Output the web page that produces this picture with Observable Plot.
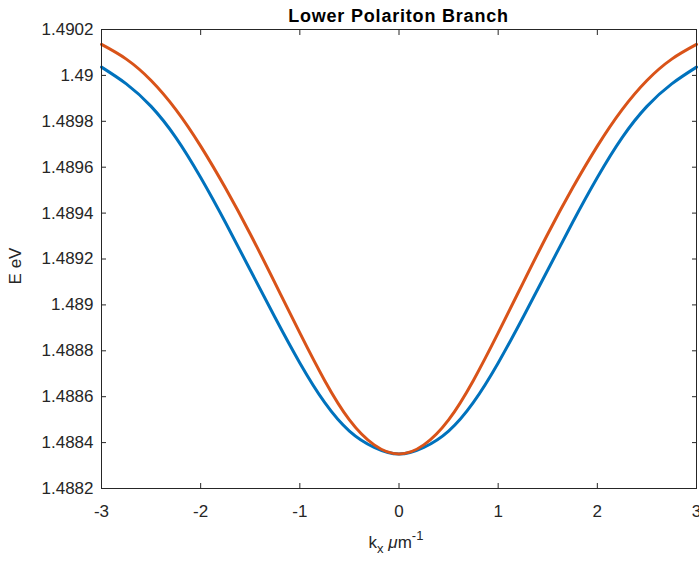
<!DOCTYPE html>
<html><head><meta charset="utf-8">
<script src="https://cdn.jsdelivr.net/npm/d3@7"></script>
<script src="https://cdn.jsdelivr.net/npm/@observablehq/plot@0.6"></script>
<style>body{margin:0;background:#fff;}</style>
</head><body><div id="chart"></div>
<script>
const kx = [-3,-2.75,-2.5,-2.25,-2,-1.75,-1.5,-1.25,-1,-0.75,-0.5,-0.25,0,0.25,0.5,0.75,1,1.25,1.5,1.75,2,2.25,2.5,2.75,3];
const branchBlue = [1.490036,1.489963,1.489865,1.489729,1.489555,1.489359,1.489152,1.488945,1.488747,1.488575,1.488450,1.488379,1.488350,1.488379,1.488450,1.488575,1.488747,1.488945,1.489152,1.489359,1.489555,1.489729,1.489865,1.489963,1.490036];
const branchOrange = [1.490135,1.490071,1.489978,1.489851,1.489692,1.489509,1.489309,1.489095,1.488878,1.488671,1.488499,1.488390,1.488350,1.488390,1.488499,1.488671,1.488878,1.489095,1.489309,1.489509,1.489692,1.489851,1.489978,1.490071,1.490135];
const xTicks = [-3,-2,-1,0,1,2,3];
const yTicks = [1.4882,1.4884,1.4886,1.4888,1.489,1.4892,1.4894,1.4896,1.4898,1.49,1.4902];
const titleText = "Lower Polariton Branch";
const yLabelText = "E eV";

const font = "'Liberation Sans', Arial, Helvetica, sans-serif";
const ink = "#262626";

const plot = Plot.plot({
  width: 699, height: 563,
  marginLeft: 101, marginRight: 3, marginTop: 29, marginBottom: 75,
  style: {fontFamily: font, fontSize: "17px", color: ink, background: "#fff"},
  x: {domain: [-3, 3]},
  y: {domain: [1.4882, 1.4902]},
  marks: [
    Plot.line(kx, {x: kx, y: branchBlue, stroke: "#0072BD", strokeWidth: 3, curve: "natural"}),
    Plot.line(kx, {x: kx, y: branchOrange, stroke: "#D95319", strokeWidth: 3, curve: "natural"}),
    Plot.axisX(xTicks, {anchor: "bottom", tickSize: -5, tickPadding: 21, tickFormat: d => String(d), label: null, stroke: ink, fill: ink}),
    Plot.axisX(xTicks, {anchor: "top", tickSize: -5, tickFormat: () => "", label: null, stroke: ink}),
    Plot.axisY(yTicks, {anchor: "left", tickSize: -5, tickPadding: 13, tickFormat: d => String(+d.toFixed(4)), label: null, stroke: ink, fill: ink}),
    Plot.axisY(yTicks, {anchor: "right", tickSize: -5, tickFormat: () => "", label: null, stroke: ink}),
    Plot.frame({stroke: ink, strokeWidth: 1})
  ]
});

const svg = d3.select(plot);
svg.append("text")
  .attr("x", 398.5).attr("y", 22)
  .attr("text-anchor", "middle")
  .attr("font-family", font).attr("font-size", 18).attr("font-weight", "bold")
  .attr("letter-spacing", 0.8)
  .attr("fill", "#000")
  .text(titleText);

svg.append("text")
  .attr("transform", "translate(21,266) rotate(-90)")
  .attr("text-anchor", "middle")
  .attr("font-family", font).attr("font-size", 17)
  .attr("fill", ink)
  .text(yLabelText);

const xl = svg.append("text")
  .attr("x", 396).attr("y", 548)
  .attr("text-anchor", "middle")
  .attr("font-family", font).attr("font-size", 17)
  .attr("fill", ink);
xl.append("tspan").text("k");
xl.append("tspan").attr("font-size", 13).attr("dy", 5).text("x");
xl.append("tspan").attr("dy", -5).text(" ");
xl.append("tspan").attr("font-style", "italic").text("μ");
xl.append("tspan").text("m");
xl.append("tspan").attr("font-size", 13).attr("dy", -8).text("-1");

document.getElementById("chart").appendChild(plot);
</script>
</body></html>
